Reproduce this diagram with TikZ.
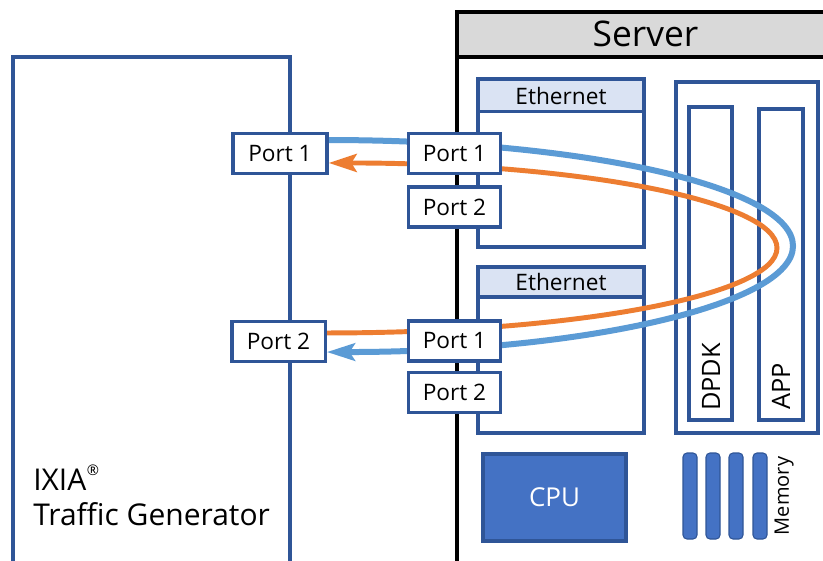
\documentclass[tikz,border=0pt]{standalone}
\usepackage{fontspec}
\setmainfont{Open Sans}
\usetikzlibrary{arrows.meta}
\definecolor{bord}{HTML}{2F5597}
\definecolor{cpufill}{HTML}{4472C4}
\definecolor{hdrgray}{HTML}{D9D9D9}
\definecolor{ethhdr}{HTML}{DAE3F3}
\definecolor{flowblue}{HTML}{5B9BD5}
\definecolor{floworange}{HTML}{ED7D31}
\tikzset{
  bluebox/.style={draw=bord, line width=2.5pt},
  portbox/.style={draw=bord, fill=white, line width=2.5pt, inner sep=0pt,
    minimum height=30pt, font=\fontsize{17}{20}\selectfont},
  ethhead/.style={draw=bord, fill=ethhdr, line width=2.5pt, inner sep=0pt,
    minimum width=124.5pt, minimum height=24pt, font=\fontsize{17}{20}\selectfont},
  vtext/.style={rotate=90, inner sep=0pt, font=\fontsize{19}{22}\selectfont},
  membar/.style={draw=bord, fill=cpufill, line width=0.8pt, rounded corners=3pt},
  blueflow/.style={draw=flowblue, line width=4.5pt,
    -{Stealth[length=21pt,width=13pt,inset=4pt]}},
  orangeflow/.style={draw=floworange, line width=3.7pt,
    -{Stealth[length=21pt,width=13.5pt,inset=4pt]}}
}
\begin{document}
\begin{tikzpicture}[x=0.75pt,y=-0.75pt]
\useasboundingbox (0,0) rectangle (823,560);
\clip (0,0) rectangle (823,560);
\fill[white] (0,0) rectangle (823,560);

% IXIA traffic generator
\draw[bluebox] (13,57) rectangle (290,600);
\node[anchor=base west, inner sep=0pt, font=\fontsize{22.5}{26}\selectfont] (ixia) at (33,490)
  {IXIA\kern0.5pt\raisebox{0.5em}{\fontsize{11}{12}\selectfont ®}};
\node[anchor=base west, inner sep=0pt, font=\fontsize{22.5}{26}\selectfont] (tg) at (33,525)
  {Traffic Generator};

% Server
\fill[hdrgray] (457,12) rectangle (850,57);
\draw[black, line width=2.5pt] (457,600) -- (457,12) -- (850,12);
\draw[black, line width=2.5pt] (457,57) -- (850,57);
\node[inner sep=0pt, anchor=base, font=\fontsize{26.5}{30}\selectfont] (server) at (645.5,47) {Server};

% Ethernet boxes
\draw[bluebox] (478,79) rectangle (644,247);
\node[ethhead] (eth1) at (561,95.5) {Ethernet};
\draw[bluebox] (478,267) rectangle (644,433);
\node[ethhead, minimum height=22.5pt] (eth2) at (561,282) {Ethernet};

% DPDK / APP container
\draw[bluebox] (676,82) rectangle (818,433);
\draw[bluebox] (689,107) rectangle (732,420);
\draw[bluebox] (759,109) rectangle (803,420);
\node[vtext] (dpdk) at (711,377) {DPDK};
\node[vtext] (app) at (781,386.5) {APP};

% CPU
\node[draw=bord, fill=cpufill, line width=2.5pt, minimum width=107.25pt, minimum height=65.25pt,
  inner sep=0pt, text=white, font=\fontsize{19.5}{22}\selectfont] (cpu) at (554.5,497.5) {CPU};

% Memory
\draw[membar] (683,453) rectangle (697,539);
\draw[membar] (706,453) rectangle (720,539);
\draw[membar] (729,453) rectangle (743,539);
\draw[membar] (753,453) rectangle (767,539);
\node[rotate=90, inner sep=0pt, font=\fontsize{15}{18}\selectfont] (mem) at (784,496) {Memory};

% Port node positions
\coordinate (lp1c) at (280,153.5);
\coordinate (lp2c) at (278.5,341.5);

% Invisible anchors for the flows (same geometry as the visible ports)
\path (lp1c) node[portbox, minimum width=70.5pt, draw=none, fill=none, text opacity=0] (lp1) {Port 1};
\path (lp2c) node[portbox, minimum width=70pt, draw=none, fill=none, text opacity=0] (lp2) {Port 2};
\coordinate (bapex) at (793,246);
\coordinate (oapex) at (777,248);
\draw[blueflow] ([yshift=10.1pt]lp1.east) .. controls +(257,0) and +(0,-58.5) .. (bapex)
  .. controls +(0,58.5) and +(257,0) .. ([yshift=-7.9pt]lp2.east);
\draw[orangeflow] ([yshift=6.4pt]lp2.east) .. controls +(249,0) and +(0,47) .. (oapex)
  .. controls +(0,-47) and +(249,0) .. ([yshift=-7.1pt]lp1.east);

% Ports
\node[portbox, minimum width=70.5pt] (p1l) at (lp1c) {Port 1};
\node[portbox, minimum width=70pt] (p2l) at (lp2c) {Port 2};
\node[portbox, minimum width=69pt] (sp1) at (454.5,153.5) {Port 1};
\node[portbox, minimum width=69pt] (sp2) at (454.5,207) {Port 2};
\node[portbox, minimum width=69pt] (sp3) at (454.5,341) {Port 1};
\node[portbox, minimum width=69pt] (sp4) at (454.5,392.5) {Port 2};
\end{tikzpicture}
\end{document}
